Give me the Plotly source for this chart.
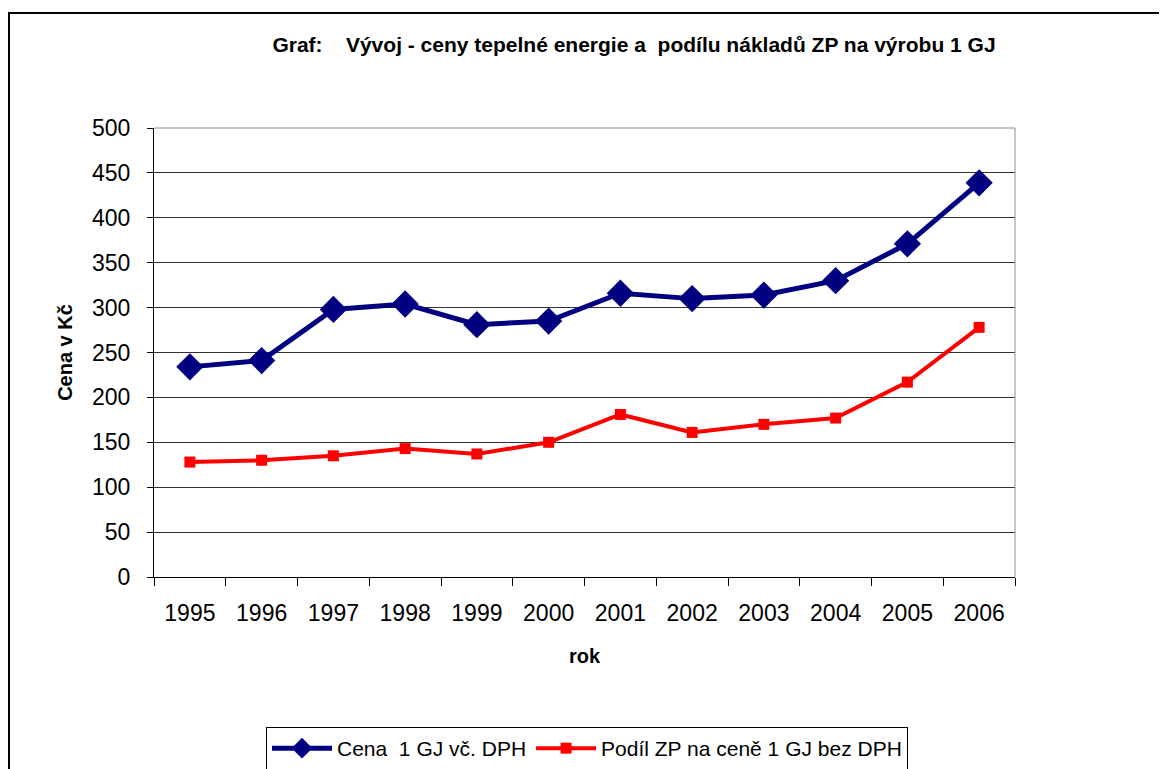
import plotly.graph_objects as go

years = ["1995", "1996", "1997", "1998", "1999", "2000", "2001", "2002", "2003", "2004", "2005", "2006"]
cena_s_dph = [234, 241, 298, 304, 281, 285, 316, 310, 314, 330, 371, 439]
podil_zp = [128, 130, 135, 143, 137, 150, 181, 161, 170, 177, 217, 278]

name_cena = "Cena \u00a01 GJ vč. DPH"
name_podil = "Podíl ZP na ceně 1 GJ bez DPH"
title_text = "Graf:\u00a0\u00a0\u00a0 Vývoj - ceny tepelné energie a \u00a0podílu nákladů ZP na výrobu 1 GJ"

FONT = "Liberation Sans, Arial, sans-serif"

# figure geometry (page has 8px body margin)
W, H = 1159, 761
L, T, PW, PH = 146, 120, 861, 449
R, B = W - L - PW, H - T - PH

fig = go.Figure()
fig.add_trace(go.Scatter(
    x=years, y=cena_s_dph, name=name_cena, mode="lines+markers",
    line=dict(color="#000080", width=5),
    marker=dict(symbol="diamond", size=21, color="#000080"),
))
fig.add_trace(go.Scatter(
    x=years, y=podil_zp, name=name_podil, mode="lines+markers",
    line=dict(color="#FF0000", width=4),
    marker=dict(symbol="square", size=11, color="#FF0000"),
))

fig.update_layout(
    width=W, height=H,
    margin=dict(l=L, r=R, t=T, b=B, autoexpand=False),
    paper_bgcolor="white", plot_bgcolor="white",
    font=dict(family=FONT, color="black"),
    title=dict(text="<b>" + title_text + "</b>", xref="paper", x=(626 - L) / PW, xanchor="center",
               yref="container", y=1 - 37 / H, yanchor="middle", font=dict(size=21, family=FONT)),
    showlegend=True,
    legend=dict(orientation="h", x=(258 - L) / PW, xanchor="left", y=(T + PH - 719) / PH, yanchor="top",
                bordercolor="black", borderwidth=1, bgcolor="white",
                font=dict(size=21, family=FONT), itemwidth=60, tracegroupgap=0),
)

fig.update_xaxes(
    type="category", range=[-0.5, len(years) - 0.5], tickson="boundaries",
    ticks="outside", ticklen=8, tickcolor="black",
    showline=True, linecolor="black", linewidth=1, showgrid=False,
    tickfont=dict(size=23, family=FONT), ticklabelstandoff=15,
    title=dict(text="<b>rok</b>", font=dict(size=20, family=FONT), standoff=24),
)
fig.update_yaxes(
    range=[0, 500], dtick=50, ticks="outside", ticklen=6, tickcolor="black",
    showline=True, linecolor="black", linewidth=1,
    showgrid=True, gridcolor="#333333", gridwidth=1, zeroline=False,
    tickfont=dict(size=23, family=FONT), ticklabelstandoff=12,
    title=dict(text="<b>Cena v Kč</b>", font=dict(size=20, family=FONT), standoff=14),
)

# plot area border (grey, top and right)
fig.add_shape(type="line", xref="paper", yref="paper", x0=0, x1=1, y0=1, y1=1,
              line=dict(color="#8c8c8c", width=1))
fig.add_shape(type="line", xref="paper", yref="paper", x0=1, x1=1, y0=0, y1=1,
              line=dict(color="#8c8c8c", width=1))
# outer chart frame
fig.add_shape(type="rect", xref="paper", yref="paper",
              x0=(1 - L) / PW, x1=(W + 20 - L) / PW,
              y0=(T + PH - (H + 20)) / PH, y1=(T + PH - 5) / PH,
              line=dict(color="black", width=2), layer="below")

fig.write_html("out.html")
